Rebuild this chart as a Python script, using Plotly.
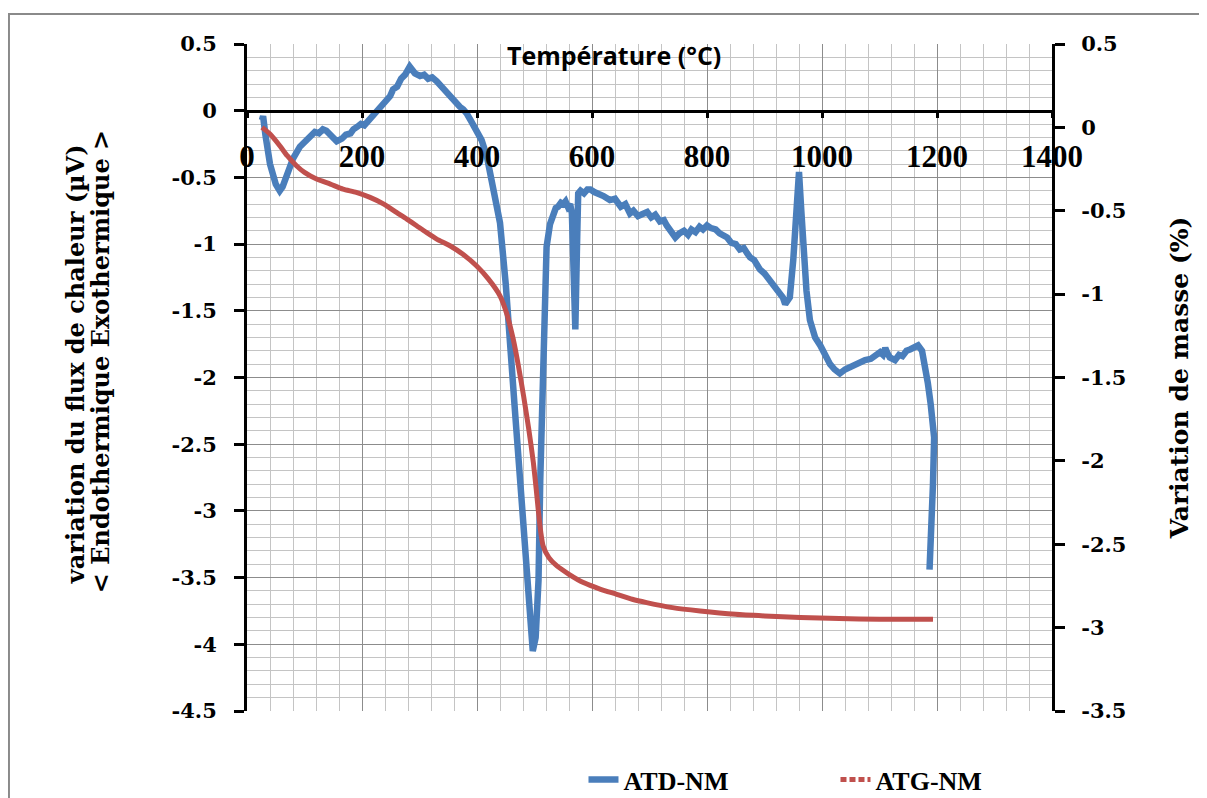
import plotly.graph_objects as go

# ATD-NM (heat flow, left axis)
atd_T = [26, 28, 32, 40, 50, 57, 62, 70, 80, 92,
         105, 112, 118, 125, 132, 138, 145, 156, 165, 172,
         180, 185, 192, 198, 204, 208, 214, 220, 226, 231,
         237, 243, 249, 254, 261, 268, 275, 283, 287, 292,
         301, 308, 315, 322, 330, 338, 345, 352, 358, 365,
         370, 376, 382, 390, 399, 408, 417, 430, 440, 450,
         457, 466, 475, 484, 492, 497, 502, 507, 510, 515,
         521, 527, 532, 537, 541, 546, 550, 554, 558, 562,
         565, 568, 571, 574, 576, 580, 586, 592, 597, 604,
         612, 620, 631, 640, 650, 658, 666, 672, 680, 689,
         696, 703, 710, 718, 725, 730, 737, 745, 752, 760,
         767, 773, 780, 787, 793, 800, 807, 815, 822, 828,
         835, 842, 850, 857, 864, 870, 875, 882, 892, 900,
         910, 918, 927, 932, 936, 940, 944, 950, 955, 960,
         964, 967, 973, 979, 988, 997, 1005, 1014, 1022, 1031,
         1040, 1050, 1058, 1066, 1075, 1085, 1093, 1101, 1106, 1110,
         1114, 1118, 1127, 1134, 1140, 1147, 1153, 1160, 1167, 1174,
         1179, 1184, 1189, 1193, 1195, 1193, 1190, 1187]
atd_V = [-0.07, -0.04, -0.18, -0.40, -0.55, -0.60, -0.57, -0.46, -0.36, -0.27,
         -0.21, -0.19, -0.16, -0.17, -0.14, -0.15, -0.18, -0.23, -0.21, -0.18,
         -0.17, -0.14, -0.12, -0.10, -0.11, -0.09, -0.06, -0.04, 0.0, 0.03,
         0.05, 0.09, 0.11, 0.16, 0.18, 0.24, 0.27, 0.33, 0.31, 0.28,
         0.26, 0.27, 0.24, 0.25, 0.22, 0.18, 0.15, 0.11, 0.08, 0.05,
         0.03, 0.01, -0.02, -0.08, -0.14, -0.22, -0.34, -0.60, -0.84, -1.30,
         -1.77, -2.25, -2.77, -3.30, -3.77, -4.05, -3.95, -3.52, -2.77, -1.77,
         -1.02, -0.85, -0.77, -0.73, -0.72, -0.69, -0.70, -0.68, -0.72, -0.70,
         -0.77, -1.10, -1.64, -1.00, -0.62, -0.60, -0.62, -0.59, -0.59, -0.61,
         -0.62, -0.64, -0.67, -0.66, -0.72, -0.70, -0.77, -0.75, -0.79, -0.78,
         -0.76, -0.80, -0.78, -0.83, -0.82, -0.86, -0.90, -0.95, -0.92, -0.90,
         -0.93, -0.89, -0.91, -0.87, -0.89, -0.86, -0.88, -0.89, -0.92, -0.94,
         -0.95, -0.99, -1.00, -1.04, -1.03, -1.07, -1.10, -1.12, -1.19, -1.22,
         -1.28, -1.33, -1.38, -1.40, -1.45, -1.43, -1.40, -1.12, -0.80, -0.46,
         -0.75, -1.04, -1.35, -1.57, -1.70, -1.76, -1.84, -1.90, -1.94, -1.97,
         -1.94, -1.92, -1.90, -1.88, -1.87, -1.86, -1.83, -1.81, -1.83, -1.78,
         -1.82, -1.85, -1.87, -1.83, -1.84, -1.80, -1.79, -1.78, -1.76, -1.80,
         -1.90, -2.04, -2.20, -2.34, -2.45, -2.80, -3.15, -3.44]

# ATG-NM (mass variation, right axis)
atg_T = [26, 40, 57, 70, 86, 100, 121, 145, 167, 190, 214, 238, 260, 278, 295, 312, 330, 353, 375, 399, 420, 440, 452, 463, 472, 481, 490, 498, 503, 507, 511, 515, 525, 539, 560, 585, 615, 643, 670, 695, 740, 788, 850, 900, 962, 1030, 1100, 1150, 1193]
atg_V = [0.0, -0.04, -0.11, -0.17, -0.23, -0.27, -0.31, -0.34, -0.37, -0.39, -0.42, -0.46, -0.51, -0.55, -0.59, -0.63, -0.67, -0.71, -0.76, -0.83, -0.91, -1.01, -1.12, -1.27, -1.43, -1.61, -1.81, -2.01, -2.17, -2.31, -2.43, -2.51, -2.58, -2.63, -2.68, -2.73, -2.77, -2.80, -2.83, -2.85, -2.88, -2.90, -2.92, -2.93, -2.94, -2.945, -2.95, -2.95, -2.95]

x_ticks = [0, 200, 400, 600, 800, 1000, 1200, 1400]
y1_ticks = [0.5, 0, -0.5, -1, -1.5, -2, -2.5, -3, -3.5, -4, -4.5]
y2_ticks = [0.5, 0, -0.5, -1, -1.5, -2, -2.5, -3, -3.5]

BLUE = "#4A7EBB"
RED = "#C0504D"
SERIF = "Liberation Serif, Times New Roman, serif"
WIDE = "DejaVu Serif, serif"


def lab(v):
    return "%g" % v


fig = go.Figure()
fig.add_trace(go.Scatter(x=atd_T, y=atd_V, mode="lines", name="ATD-NM",
                         line=dict(color=BLUE, width=6.5), yaxis="y"))
fig.add_trace(go.Scatter(x=atg_T, y=atg_V, mode="lines", name="ATG-NM",
                         line=dict(color=RED, width=5, shape="spline", smoothing=0.6),
                         yaxis="y2", showlegend=False))
# legend-only entry for the dashed ATG line
fig.add_trace(go.Scatter(x=[None], y=[None], mode="lines", name="ATG-NM",
                         line=dict(color=RED, width=5, dash="6px,3px"), yaxis="y2"))

fig.update_layout(
    width=1199, height=790,
    margin=dict(l=239, r=155, t=36, b=87, autoexpand=False),
    paper_bgcolor="white", plot_bgcolor="white",
    font=dict(family=SERIF, size=22, color="black"),
    showlegend=True,
    legend=dict(orientation="h", x=0.418, y=-0.103, xanchor="left", yanchor="middle",
                font=dict(family=SERIF, size=26, color="black", weight="bold"),
                entrywidth=207, bgcolor="rgba(0,0,0,0)"),
    xaxis=dict(range=[0, 1400], tickvals=x_ticks, ticktext=[lab(v) for v in x_ticks],
               anchor="free", position=0.9, side="bottom",
               showline=True, linecolor="black", linewidth=3,
               ticks="outside", ticklen=5, tickwidth=3, tickcolor="black",
               ticklabelstandoff=12,
               tickfont=dict(family=SERIF, size=31, color="black", weight="bold"),
               showgrid=True, gridcolor="#8c8c8c", gridwidth=1.3,
               minor=dict(dtick=40, tick0=0, showgrid=True, gridcolor="#c4c4c4", gridwidth=1.3),
               zeroline=False),
    yaxis=dict(range=[-4.5, 0.5], tickvals=y1_ticks, ticktext=[lab(v) for v in y1_ticks],
               showline=True, linecolor="black", linewidth=3, mirror=False,
               ticks="outside", ticklen=10, tickwidth=3, tickcolor="black",
               ticklabelstandoff=13,
               tickfont=dict(family=WIDE, size=21, color="black", weight="bold"),
               showgrid=True, gridcolor="#8c8c8c", gridwidth=1.3,
               minor=dict(dtick=0.1, tick0=0, showgrid=True, gridcolor="#c4c4c4", gridwidth=1.3),
               zeroline=False),
    yaxis2=dict(range=[-3.5, 0.5], tickvals=y2_ticks, ticktext=[lab(v) for v in y2_ticks],
                overlaying="y", side="right",
                showline=True, linecolor="black", linewidth=3,
                ticks="outside", ticklen=10, tickwidth=3, tickcolor="black",
                ticklabelstandoff=12,
                tickfont=dict(family=WIDE, size=21, color="black", weight="bold"),
                showgrid=False, zeroline=False),
)

fig.add_annotation(text="<b>Température (°C)</b>", xref="paper", yref="paper",
                   x=0.456, y=0.9835, xanchor="center", yanchor="middle", showarrow=False,
                   font=dict(family="Open Sans, Lato, sans-serif", size=25, color="black"))
fig.add_annotation(text="<b>variation du flux de chaleur (µV)</b>",
                   xref="paper", yref="paper", x=-0.2137, y=0.52, textangle=-90,
                   xanchor="center", yanchor="middle", showarrow=False,
                   font=dict(family=WIDE, size=24, color="black"))
fig.add_annotation(text="<b>< Endothermique Exothermique ></b>",
                   xref="paper", yref="paper", x=-0.1826, y=0.523, textangle=-90,
                   xanchor="center", yanchor="middle", showarrow=False,
                   font=dict(family=WIDE, size=24, color="black"))
fig.add_annotation(text="<b>Variation de masse (%)</b>", xref="paper", yref="paper",
                   x=1.158, y=0.499, textangle=-90, xanchor="center", yanchor="middle",
                   showarrow=False, font=dict(family=WIDE, size=25, color="black"))

fig.add_shape(type="rect", xref="paper", yref="paper", x0=-0.2957, x1=1.3, y0=-0.3, y1=1.045,
              line=dict(color="#8a8a8a", width=2), fillcolor="rgba(0,0,0,0)", layer="below")

fig.write_html("out.html")
